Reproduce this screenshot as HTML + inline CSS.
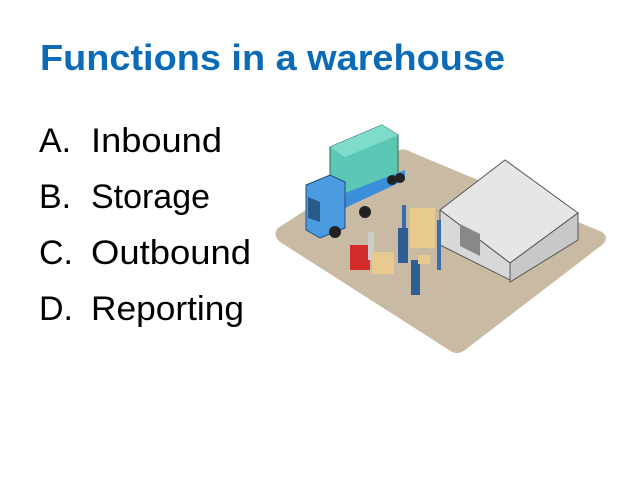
<!DOCTYPE html>
<html><head><style>html,body{margin:0;padding:0;background:#fff;}svg{display:block}</style></head>
<body>
<svg width="638" height="479" viewBox="0 0 638 479" xmlns="http://www.w3.org/2000/svg">
<text x="40" y="70" font-family="Liberation Sans, sans-serif" font-weight="bold" font-size="36" fill="#0b6bb6" textLength="465" lengthAdjust="spacingAndGlyphs">Functions in a warehouse</text>
<g font-family="Liberation Sans, sans-serif" font-size="34" fill="#000">
<text x="39" y="152">A.</text><text x="91" y="152" textLength="131" lengthAdjust="spacingAndGlyphs">Inbound</text>
<text x="39" y="208">B.</text><text x="91" y="208" textLength="119" lengthAdjust="spacingAndGlyphs">Storage</text>
<text x="39" y="264">C.</text><text x="91" y="264" textLength="160" lengthAdjust="spacingAndGlyphs">Outbound</text>
<text x="39" y="320">D.</text><text x="91" y="320" textLength="153" lengthAdjust="spacingAndGlyphs">Reporting</text>
</g>
<!-- ground -->
<path d="M278,228 L395,152 Q403,147 411,152 L602,232 Q610,238 602,245 L465,350 Q457,356 449,350 L280,242 Q272,235 278,228 Z" fill="#c9bba3"/>
<!-- warehouse -->
<polygon points="440,215 510,265 510,275 440,240" fill="#ddd"/>
<polygon points="510,262 578,215 578,240 510,280" fill="#bbb"/>
<polygon points="440,210 505,160 578,213 510,263" fill="#e6e6e6" stroke="#555" stroke-width="1"/>
<polygon points="440,210 440,245 510,280 510,263" fill="#d8d8d8" stroke="#555" stroke-width="1"/>
<polygon points="510,263 578,213 578,240 510,282" fill="#c8c8c8" stroke="#555" stroke-width="1"/>
<polygon points="460,224 480,234 480,256 460,246" fill="#888"/>
<!-- truck -->
<polygon points="330,147 382,125 398,135 398,178 345,200 330,190" fill="#5cc7b5" stroke="#2b6b63" stroke-width="1"/>
<polygon points="330,147 382,125 398,135 345,157" fill="#7fdccb"/>
<polygon points="340,195 405,170 405,180 345,208" fill="#3b8fd8"/>
<polygon points="306,185 330,175 345,182 345,228 320,238 306,230" fill="#4a9be0" stroke="#1d4e80" stroke-width="1"/>
<polygon points="308,197 320,202 320,222 308,218" fill="#2a5a8a"/>
<circle cx="335" cy="232" r="6" fill="#222"/><circle cx="365" cy="212" r="6" fill="#222"/><circle cx="392" cy="180" r="5" fill="#222"/><circle cx="400" cy="178" r="5" fill="#222"/>
<!-- shelf -->
<rect x="402" y="205" width="4" height="50" fill="#3a6ea8"/><rect x="437" y="220" width="4" height="50" fill="#3a6ea8"/>
<rect x="410" y="208" width="25" height="40" fill="#e8c98e"/>
<!-- forklift -->
<rect x="350" y="245" width="20" height="25" fill="#d42b2b"/>
<rect x="368" y="232" width="6" height="28" fill="#ccc"/>
<rect x="372" y="252" width="22" height="22" fill="#e8c98e"/>
<!-- workers -->
<rect x="398" y="228" width="10" height="35" fill="#2e5e93"/>
<rect x="411" y="260" width="9" height="35" fill="#2e5e93"/>
<rect x="418" y="255" width="12" height="9" fill="#e8c98e"/>
</svg>
</body></html>
